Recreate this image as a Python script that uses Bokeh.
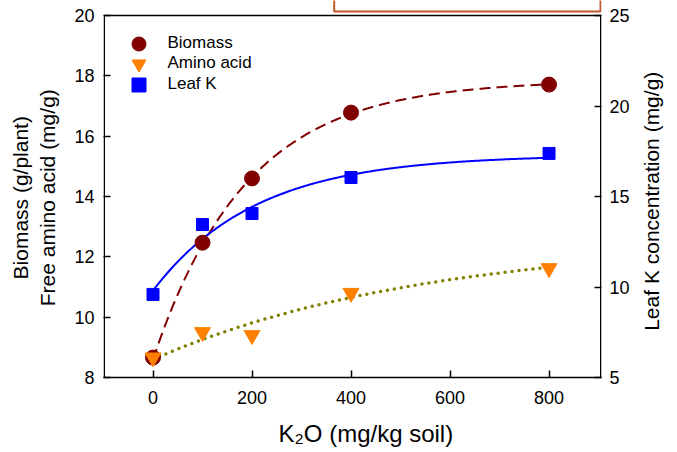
import math
import numpy as np
from bokeh.plotting import figure
from bokeh.models import Range1d, LinearAxis, Legend, LegendItem, BoxAnnotation, FixedTicker
from bokeh.embed import file_html
from bokeh.resources import INLINE

# ---- data ----
k2o = [0, 100, 200, 400, 800]
biomass = [8.66, 12.47, 14.6, 16.78, 17.71]
amino_acid = [8.66, 9.5, 9.4, 10.8, 11.62]
leaf_k = [9.59, 13.45, 14.06, 16.05, 17.38]

# fitted curves: y = y0 + a * (1 - exp(-b x))
biomass_fit = (8.6, 9.25, 0.0053)
amino_fit = (8.6, 4.0, 0.0018)
leafk_fit = (9.8, 7.5, 0.0048)

x_ticks = [0, 200, 400, 600, 800]
left_ticks = [8, 10, 12, 14, 16, 18, 20]
right_ticks = [5, 10, 15, 20, 25]

NB = "\u00a0"  # non-breaking spaces nudge the titles
x_title = NB * 4 + "K\u2082O (mg/kg soil)"
left_title = "Biomass (g/plant)" + NB * 3 + "\n" + "Free amino acid (mg/g)" + NB * 3
right_title = NB * 8 + "Leaf K concentration (mg/g)"

FONT = "Liberation Sans"

def curve(params, xs):
    y0, a, b = params
    return y0 + a * (1 - np.exp(-b * xs))

xf = np.linspace(0, 800, 300)

# plotting area reaches the top of the canvas; the axes box ends at y = 20 / 25
p = figure(width=677, height=452, output_backend="svg", toolbar_location=None,
           x_range=Range1d(-100, 906), y_range=Range1d(8, 20.497),
           min_border_left=103, min_border_right=71, min_border_top=0, min_border_bottom=75)
p.extra_y_ranges = {"k": Range1d(5, 25.83)}
p.grid.visible = False
p.outline_line_color = None
p.background_fill_color = "white"
p.border_fill_color = "white"

raxis = LinearAxis(y_range_name="k")
p.add_layout(raxis, "right")

for ax in [p.xaxis[0], p.yaxis[0], raxis]:
    ax.axis_line_color = "black"
    ax.axis_line_width = 1.5
    ax.major_tick_line_color = "black"
    ax.major_tick_line_width = 1.5
    ax.major_tick_in = 7
    ax.major_tick_out = 0
    ax.minor_tick_line_color = None
    ax.major_label_text_font = FONT
    ax.major_label_text_font_size = "18px"
    ax.major_label_text_color = "black"
    ax.axis_label_text_font = FONT
    ax.axis_label_text_font_style = "normal"
    ax.axis_label_text_color = "black"
    ax.axis_label_text_font_size = "21px"
p.yaxis[0].axis_line_color = None
raxis.axis_line_color = None

p.xaxis[0].ticker = FixedTicker(ticks=x_ticks)
p.yaxis[0].ticker = FixedTicker(ticks=left_ticks)
raxis.ticker = FixedTicker(ticks=right_ticks)

p.xaxis[0].axis_label = x_title
p.xaxis[0].axis_label_text_font_size = "24px"
p.xaxis[0].major_label_standoff = 13
p.xaxis[0].axis_label_standoff = 13

p.yaxis[0].axis_label = left_title
p.yaxis[0].major_label_standoff = 9
p.yaxis[0].axis_label_standoff = 12

raxis.axis_label = right_title
raxis.axis_label_orientation = math.pi / 2
if "axis_label_align" in raxis.properties():
    raxis.axis_label_align = "start"
raxis.major_label_standoff = 8
raxis.axis_label_standoff = 19

# axes box (left, top, right sides)
frame_box = BoxAnnotation(left=-98.5, right=904.5, bottom=7.9, top=20,
                          fill_alpha=0, line_color="black", line_alpha=1, line_width=1.5)
p.add_layout(frame_box)

# partially visible box above the axes
top_box = BoxAnnotation(left=366, right=904, bottom=20.13, top=30,
                        fill_color="white", fill_alpha=1, line_color="#c0562a", line_alpha=1, line_width=2)
p.add_layout(top_box)

# fitted lines
p.line(xf, curve(biomass_fit, xf), line_color="#800000", line_width=2, line_dash="11 6")
p.line(xf, curve(amino_fit, xf), line_color="#808000", line_width=3.5, line_dash="0 7", line_cap="round")
p.line(xf, curve(leafk_fit, xf), line_color="#0000ff", line_width=2, y_range_name="k")

# markers
r_bio = p.scatter(k2o, biomass, marker="circle", size=15, fill_color="#800000", line_color="#800000")
r_ami = p.scatter(k2o, amino_acid, marker="inverted_triangle", size=16, fill_color="#ff8000", line_color="#ff8000")
r_k = p.scatter(k2o, leaf_k, marker="square", size=12, fill_color="#0000ff", line_color="#0000ff", y_range_name="k")

# one legend per entry, so that the entries can sit closer than the glyph box
legend_entries = [("Biomass", r_bio, 316.5), ("Amino acid", r_ami, 296.5), ("Leaf K", r_k, 275.5)]
for label, rend, ly in legend_entries:
    lg = Legend(items=[LegendItem(label=label, renderers=[rend])], location=(17.5, ly))
    lg.glyph_width = 35
    lg.glyph_height = 35
    lg.padding = 0
    lg.margin = 0
    lg.spacing = 0
    lg.label_standoff = 12
    lg.label_text_font = FONT
    lg.label_text_font_size = "17px"
    lg.label_text_color = "black"
    lg.border_line_color = None
    lg.background_fill_alpha = 0
    p.add_layout(lg, "center")

open("out.html", "w").write(file_html(p, INLINE))
